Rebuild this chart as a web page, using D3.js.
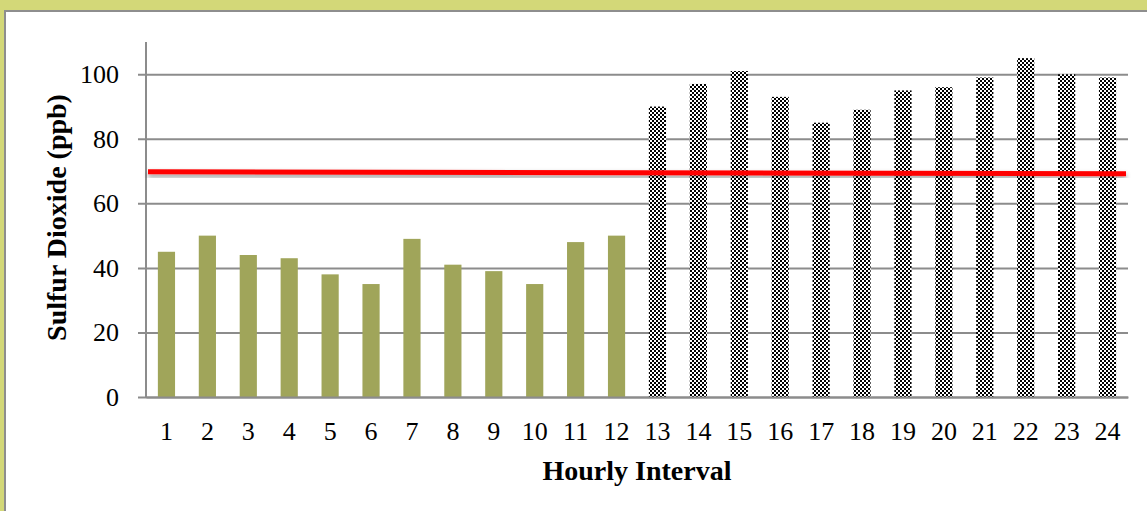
<!DOCTYPE html>
<html>
<head>
<meta charset="utf-8">
<script src="https://cdn.jsdelivr.net/npm/d3@7"></script>
<style>
  html, body { margin: 0; padding: 0; background: #d3d878; overflow: hidden; }
  #chart { width: 1147px; height: 511px; }
</style>
</head>
<body>
<div id="chart"></div>
<script>
// hourly SO2 readings, first half plain olive bars, second half checkered
const hours = ["1","2","3","4","5","6","7","8","9","10","11","12",
               "13","14","15","16","17","18","19","20","21","22","23","24"];
const so2 = [45, 50, 44, 43, 38, 35, 49, 41, 39, 35, 48, 50,
             90, 97, 101, 93, 85, 89, 95, 96, 99, 105, 100, 99];
const checkeredFrom = 13;
const limitLine = [69.8, 69.2]; // red reference line, left and right end
const yTicks = [0, 20, 40, 60, 80, 100];

const W = 1147, H = 511;
const margin = { top: 42, right: 19, bottom: 114, left: 146 };

const svg = d3.select("#chart").append("svg")
    .attr("width", W)
    .attr("height", H);

// white chart panel on the yellow page
svg.append("rect")
    .attr("x", 5).attr("y", 11)
    .attr("width", W).attr("height", H)
    .attr("fill", "#fff")
    .attr("stroke", "#8e8e8e")
    .attr("stroke-width", 2);

const defs = svg.append("defs");
const pat = defs.append("pattern")
    .attr("id", "checker")
    .attr("patternUnits", "userSpaceOnUse")
    .attr("width", 4).attr("height", 4);
pat.append("rect").attr("width", 4).attr("height", 4).attr("fill", "#fff");
pat.append("rect").attr("x", 0).attr("y", 0).attr("width", 2).attr("height", 2).attr("fill", "#000");
pat.append("rect").attr("x", 2).attr("y", 2).attr("width", 2).attr("height", 2).attr("fill", "#000");

const shadow = defs.append("filter")
    .attr("id", "shadow")
    .attr("x", "-5%").attr("y", "-200%")
    .attr("width", "110%").attr("height", "500%");
shadow.append("feDropShadow")
    .attr("dx", 0).attr("dy", 3)
    .attr("stdDeviation", 2.5)
    .attr("flood-color", "#000")
    .attr("flood-opacity", 0.4);

const width = W - margin.left - margin.right;
const height = H - margin.top - margin.bottom;

const g = svg.append("g")
    .attr("transform", `translate(${margin.left},${margin.top})`);

const x = d3.scaleBand()
    .domain(hours)
    .range([0, width])
    .paddingInner(0.58)
    .paddingOuter(0.29);

const y = d3.scaleLinear()
    .domain([0, 110])
    .range([height, 0]);

// gridlines + left ticks
const yAxis = g.append("g")
    .call(d3.axisLeft(y).tickValues(yTicks).tickSize(-width).tickSizeOuter(0).tickPadding(27));
yAxis.select(".domain").remove();
yAxis.selectAll(".tick line")
    .attr("x1", -8)
    .attr("stroke", "#8c8c8c")
    .attr("stroke-width", 2);
yAxis.selectAll("text")
    .attr("font-family", "Liberation Serif, serif")
    .attr("font-size", 26)
    .attr("fill", "#000");

// bars
g.selectAll(".bar")
    .data(so2)
    .join("rect")
    .attr("class", "bar")
    .attr("x", (d, i) => x(hours[i]))
    .attr("y", d => y(d))
    .attr("width", x.bandwidth())
    .attr("height", d => y(0) - y(d))
    .attr("fill", (d, i) => +hours[i] >= checkeredFrom ? "url(#checker)" : "#a0a55a");

// vertical axis line
g.append("line")
    .attr("x1", 0).attr("x2", 0)
    .attr("y1", 0).attr("y2", height)
    .attr("stroke", "#8c8c8c")
    .attr("stroke-width", 2);

// bottom axis
const xAxis = g.append("g")
    .attr("transform", `translate(0,${height})`)
    .call(d3.axisBottom(x).tickSize(0).tickPadding(25));
xAxis.select(".domain")
    .attr("stroke", "#8c8c8c")
    .attr("stroke-width", 2);
xAxis.selectAll("text")
    .attr("font-family", "Liberation Serif, serif")
    .attr("font-size", 26)
    .attr("fill", "#000");

// red limit line
g.append("line")
    .attr("x1", 2).attr("x2", width - 2)
    .attr("y1", y(limitLine[0])).attr("y2", y(limitLine[1]))
    .attr("stroke", "#ff0000")
    .attr("stroke-width", 5)
    .attr("filter", "url(#shadow)");

// axis titles
g.append("text")
    .attr("x", width / 2)
    .attr("y", height + 83)
    .attr("text-anchor", "middle")
    .attr("font-family", "Liberation Serif, serif")
    .attr("font-weight", "bold")
    .attr("font-size", 28)
    .text("Hourly Interval");

g.append("text")
    .attr("transform", `translate(${-80},${height / 2 - 2}) rotate(-90)`)
    .attr("text-anchor", "middle")
    .attr("font-family", "Liberation Serif, serif")
    .attr("font-weight", "bold")
    .attr("font-size", 28)
    .text("Sulfur Dioxide (ppb)");
</script>
</body>
</html>
